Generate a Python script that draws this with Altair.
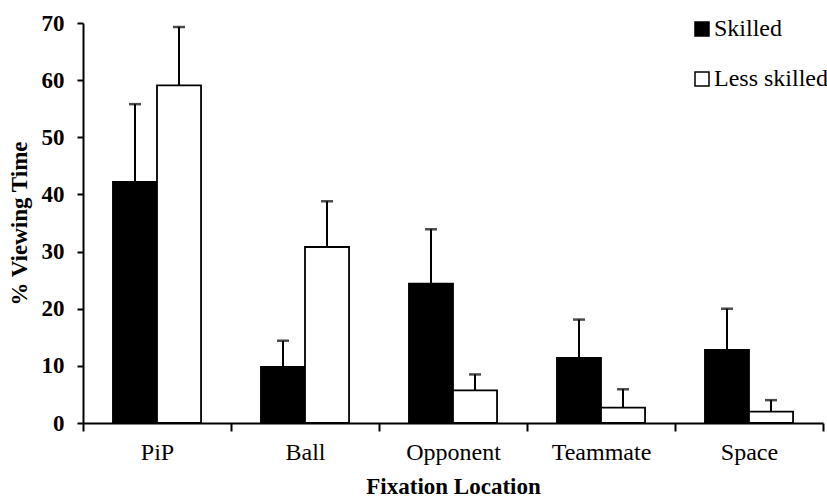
import altair as alt
import pandas as pd

# Mean % viewing time per fixation location, with the SD drawn as an upper error bar
locations = ["PiP", "Ball", "Opponent", "Teammate", "Space"]
groups = ["Skilled", "Less skilled"]
skilled_mean = [42.2, 9.8, 24.4, 11.4, 12.8]
skilled_sd = [13.6, 4.6, 9.5, 6.7, 7.2]
less_mean = [59.1, 30.8, 5.7, 2.7, 2.0]
less_sd = [10.2, 8.0, 2.8, 3.2, 2.0]

rows = []
for loc, m, s in zip(locations, skilled_mean, skilled_sd):
    rows.append({"location": loc, "group": "Skilled", "mean": m, "upper": m + s})
for loc, m, s in zip(locations, less_mean, less_sd):
    rows.append({"location": loc, "group": "Less skilled", "mean": m, "upper": m + s})
df = pd.DataFrame(rows)

FONT = "Liberation Serif"

x_enc = alt.X(
    "location:N",
    sort=locations,
    scale=alt.Scale(paddingInner=0, paddingOuter=0),
    axis=alt.Axis(
        title="Fixation Location",
        titleFont=FONT, titleFontSize=23, titleFontWeight="bold", titleColor="black",
        titlePadding=11,
        labelFont=FONT, labelFontSize=24, labelColor="black", labelAngle=0,
        labelPadding=9,
        domainColor="black", domainWidth=2,
        tickColor="black", tickWidth=2, tickSize=8, tickBand="extent",
        grid=False,
    ),
)
xoff_enc = alt.XOffset(
    "group:N",
    sort=groups,
    scale=alt.Scale(domain=groups, paddingInner=0, paddingOuter=0.68),
)
y_scale = alt.Scale(domain=[0, 70], nice=False)

bars = alt.Chart(df).mark_bar(stroke="black", strokeWidth=1.8).encode(
    x=x_enc,
    xOffset=xoff_enc,
    y=alt.Y(
        "mean:Q",
        scale=y_scale,
        axis=alt.Axis(
            title="% Viewing Time",
            titleFont=FONT, titleFontSize=23, titleFontWeight="bold", titleColor="black",
            titlePadding=10,
            values=[0, 10, 20, 30, 40, 50, 60, 70],
            labelFont=FONT, labelFontSize=23, labelFontWeight="bold", labelColor="black",
            labelPadding=13,
            domainColor="black", domainWidth=2,
            tickColor="black", tickWidth=2, tickSize=6,
            grid=False,
        ),
    ),
    fill=alt.Fill(
        "group:N",
        sort=groups,
        scale=alt.Scale(domain=groups, range=["black", "white"]),
        legend=alt.Legend(
            title=None,
            orient="none",
            legendX=607,
            legendY=-6,
            symbolType="square",
            symbolSize=196,
            symbolStrokeColor="black",
            symbolStrokeWidth=1.5,
            labelFont=FONT,
            labelFontSize=24,
            labelColor="black",
            labelOffset=0,
            rowPadding=26,
        ),
    ),
)

err = alt.Chart(df).mark_rule(color="black", strokeWidth=2).encode(
    x=x_enc,
    xOffset=xoff_enc,
    y=alt.Y("mean:Q", scale=y_scale),
    y2="upper:Q",
)

caps = alt.Chart(df).mark_tick(color="black", thickness=2.5, size=12).encode(
    x=x_enc,
    xOffset=xoff_enc,
    y=alt.Y("upper:Q", scale=y_scale),
)

chart = (
    alt.layer(err, bars, caps)
    .properties(
        width=740,
        height=400,
        autosize=alt.AutoSizeParams(type="none"),
        padding={"left": 83, "top": 23, "right": 4, "bottom": 77},
        background="white",
    )
    .configure_view(stroke=None)
)

chart.save("out.html", embed_options={"renderer": "svg", "actions": False})
